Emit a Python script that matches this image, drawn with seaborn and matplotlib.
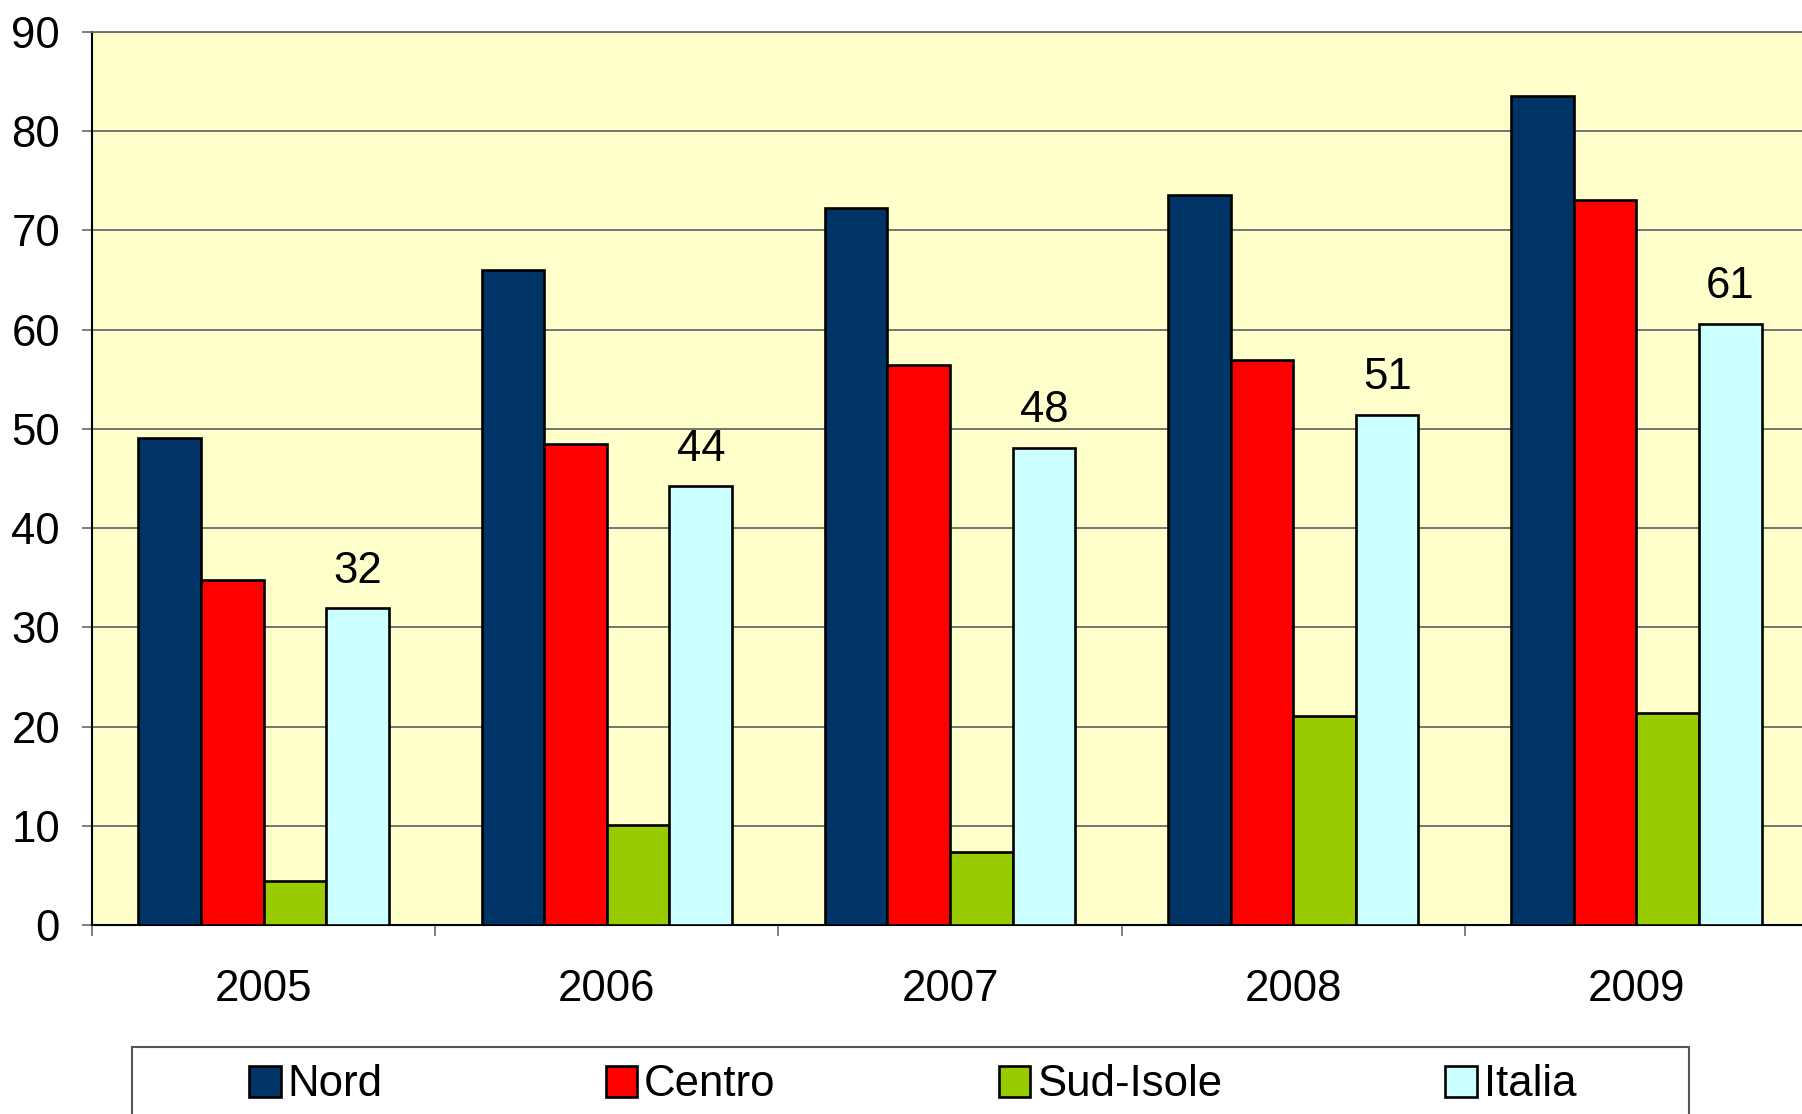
import matplotlib
matplotlib.use("Agg")
import matplotlib.pyplot as plt
import seaborn as sns
import pandas as pd
from matplotlib.patches import Patch, Rectangle
from matplotlib.ticker import FixedLocator, MultipleLocator

years = ["2005", "2006", "2007", "2008", "2009"]
areas = ["Nord", "Centro", "Sud-Isole", "Italia"]
nord = [49.1, 66.0, 72.3, 73.6, 83.5]
centro = [34.8, 48.5, 56.4, 56.9, 73.1]
sud_isole = [4.4, 10.1, 7.4, 21.1, 21.4]
italia = [31.9, 44.2, 48.1, 51.4, 60.6]
colors = ["#003366", "#FF0000", "#99CC00", "#CCFFFF"]

series = {"Nord": nord, "Centro": centro, "Sud-Isole": sud_isole, "Italia": italia}
rows = []
for a in areas:
    for y, v in zip(years, series[a]):
        rows.append({"Anno": y, "Area": a, "Valore": v})
df = pd.DataFrame(rows)

sns.set_style("white")
plt.rcParams["font.family"] = ["Liberation Sans", "DejaVu Sans"]
plt.rcParams["text.color"] = "black"
plt.rcParams["xtick.color"] = "black"
plt.rcParams["ytick.color"] = "black"

FS = 31.5
W, H = 1802, 1114
fig = plt.figure(figsize=(W / 100, H / 100), dpi=100)
ax = fig.add_axes([92 / W, 189 / H, (1808 - 92) / W, 893 / H])
ax.set_facecolor("#FFFFCC")

sns.barplot(data=df, x="Anno", y="Valore", hue="Area", order=years, hue_order=areas,
            palette=colors, width=0.73, edgecolor="black", linewidth=1.9,
            saturation=1, legend=False, ax=ax, zorder=3)

ax.set_xlim(-0.5, 4.5)
ax.set_ylim(0, 90)
ax.yaxis.set_major_locator(MultipleLocator(10))
ax.grid(axis="y", color="#6a6a6a", linewidth=1.3, zorder=0)
ax.set_axisbelow(True)
ax.set_xlabel("")
ax.set_ylabel("")

ax.spines["right"].set_visible(False)
ax.spines["top"].set_color("#6a6a6a")
ax.spines["top"].set_linewidth(1.3)
ax.spines["left"].set_color("black")
ax.spines["left"].set_linewidth(1.5)
ax.spines["bottom"].set_color("black")
ax.spines["bottom"].set_linewidth(1.5)

ax.tick_params(axis="y", which="major", length=7, width=1.2, color="#6a6a6a",
               labelsize=FS, labelcolor="black", pad=16, left=True)
ax.tick_params(axis="x", which="major", length=0, labelsize=FS, labelcolor="black",
               pad=32, bottom=True)
ax.xaxis.set_minor_locator(FixedLocator([-0.5, 0.5, 1.5, 2.5, 3.5]))
ax.tick_params(axis="x", which="minor", length=8, width=1.2, color="#6a6a6a", bottom=True)

# data labels for Italia
it_container = ax.containers[3]
ax.bar_label(it_container, labels=[f"{v:.0f}" for v in italia], padding=12,
             fontsize=FS, color="black")

# legend
handles = [Patch(facecolor=c, edgecolor="black", linewidth=1.9) for c in colors]
leg = fig.legend(handles, areas, loc="center", ncol=4, mode="expand",
                 bbox_to_anchor=(249 / W, 29 / H, 1327 / W, 0),
                 frameon=False, fontsize=FS, handlelength=0.72, handleheight=0.72,
                 handletextpad=0.15, borderaxespad=0, borderpad=0, labelcolor="black")
fig.patches.append(Rectangle((132 / W, -0.05), (1689 - 132) / W, 0.05 + (1114 - 1047) / H,
                             transform=fig.transFigure, facecolor="white",
                             edgecolor="#555555", linewidth=1.5, zorder=0))

fig.savefig("out.png", dpi=100, facecolor="white")
